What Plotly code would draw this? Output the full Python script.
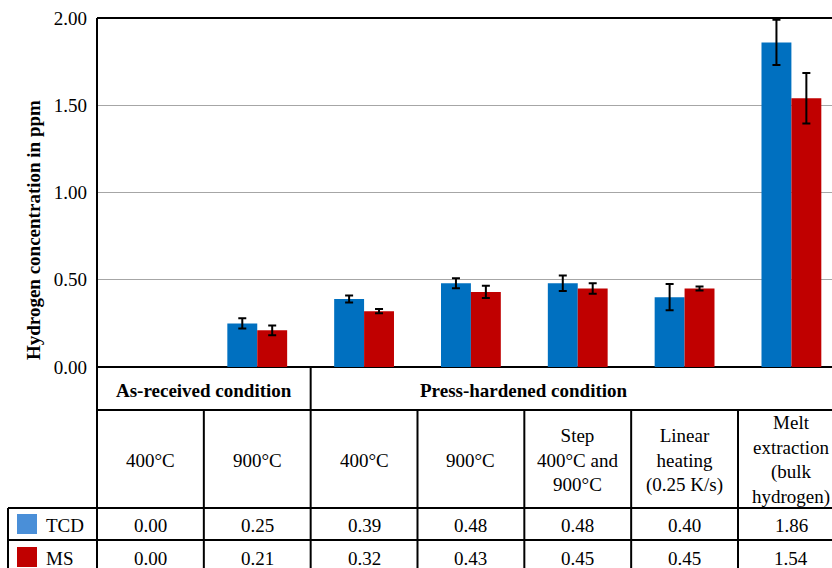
import plotly.graph_objects as go

# ---- data ----
groups = ["As-received condition", "Press-hardened condition"]
group_span = [(0, 1), (2, 6)]
conditions = ["400°C", "900°C", "400°C", "900°C",
              "Step<br>400°C and<br>900°C",
              "Linear<br>heating<br>(0.25 K/s)",
              "Melt<br>extraction<br>(bulk<br>hydrogen)"]
tcd = [0.00, 0.25, 0.39, 0.48, 0.48, 0.40, 1.86]
ms = [0.00, 0.21, 0.32, 0.43, 0.45, 0.45, 1.54]
tcd_err = [0.0, 0.03, 0.02, 0.028, 0.045, 0.075, 0.13]
ms_err = [0.0, 0.028, 0.012, 0.035, 0.03, 0.012, 0.145]
series = ["TCD", "MS"]
colors = ["#0070C0", "#C00000"]
legend_colors = ["#4A8FD8", "#C00000"]
y_ticks = [0, 0.5, 1.0, 1.5, 2.0]

# ---- layout geometry (pixels) ----
W, H = 832, 568
L, R, T, B = 97, 832, 18, 367
XMIN, XMAX = -0.5, 6.38
FONT = "Liberation Serif, Times New Roman, serif"
FS = 19

def px(xp):
    return (xp - L) / (R - L)

def py(yp):
    return (B - yp) / (B - T)

def dx(v):
    return (v - XMIN) / (XMAX - XMIN)

xs = list(range(len(conditions)))
fig = go.Figure()
for name, vals, errs, c in [(series[0], tcd, tcd_err, colors[0]), (series[1], ms, ms_err, colors[1])]:
    fig.add_trace(go.Bar(
        x=xs, y=vals, name=name, marker=dict(color=c, line=dict(width=0)),
        error_y=dict(type="data", array=errs, visible=True, color="black", thickness=2, width=4),
    ))

shapes = []
def line(x0, y0, x1, y1, w=2):
    shapes.append(dict(type="line", xref="paper", yref="paper", x0=x0, y0=y0, x1=x1, y1=y1,
                       line=dict(color="black", width=w)))

# top border
line(0, 1, 1.01, 1)
# left axis extended through table
line(0, 1, 0, py(570))
# horizontal table lines
line(0, py(410), 1.01, py(410))
line(px(8), py(508), 1.01, py(508))
line(px(8), py(540), 1.01, py(540))
# legend cell left border
line(px(8), py(508), px(8), py(570))
# group separator
gsep = dx(group_span[1][0] - 0.5)
line(gsep, 0, gsep, py(570))
# column separators
for i in range(1, len(conditions)):
    if i == group_span[1][0]:
        continue
    xx = dx(i - 0.5)
    line(xx, py(410), xx, py(570))

annotations = []
def ann(x, y, text, xref="x", bold=False, size=FS, xanchor="center", **kw):
    annotations.append(dict(x=x, y=y, xref=xref, yref="paper", text=("<b>%s</b>" % text) if bold else text,
                            showarrow=False, xanchor=xanchor, yanchor="middle",
                            font=dict(family=FONT, size=size, color="black"), **kw))

for g, (a, b) in zip(groups, group_span):
    ann((a + b) / 2 if b < 6 else 3.5, py(390), g, bold=True)
for i, c in enumerate(conditions):
    ann(i, py(460), c)
for i in range(len(conditions)):
    ann(i, py(525), "%.2f" % tcd[i])
    ann(i, py(558), "%.2f" % ms[i])

# legend cells
for k, (name, c, yc) in enumerate(zip(series, legend_colors, [524, 557])):
    shapes.append(dict(type="rect", xref="paper", yref="paper", x0=px(17), x1=px(37),
                       y0=py(yc - 10), y1=py(yc + 10), fillcolor=c, line=dict(width=0)))
    ann(px(44), py(yc + 1), name, xref="paper", xanchor="left")

# y axis title
ann(px(33), py(230), "Hydrogen concentration in ppm", xref="paper", bold=True, textangle=-90)

fig.update_layout(
    width=W, height=H,
    margin=dict(l=L, r=W - R, t=T, b=H - B, pad=0),
    paper_bgcolor="white", plot_bgcolor="white",
    barmode="group", bargap=0.44, bargroupgap=0,
    showlegend=False,
    shapes=shapes, annotations=annotations,
    font=dict(family=FONT, size=FS, color="black"),
)
fig.update_xaxes(range=[XMIN, XMAX], showticklabels=False, showgrid=False, zeroline=False,
                 showline=False, ticks="")
fig.update_yaxes(range=[0, 2], tickvals=y_ticks, tickformat=".2f", showgrid=True,
                 gridcolor="#A6A6A6", gridwidth=1, zeroline=True, zerolinecolor="black", zerolinewidth=2,
                 showline=False, ticks="", ticklabelstandoff=9,
                 tickfont=dict(family=FONT, size=FS, color="black"))

fig.write_html("out.html", config={"displayModeBar": False},
               post_script="document.body.style.margin='0';document.body.style.overflow='hidden';")
